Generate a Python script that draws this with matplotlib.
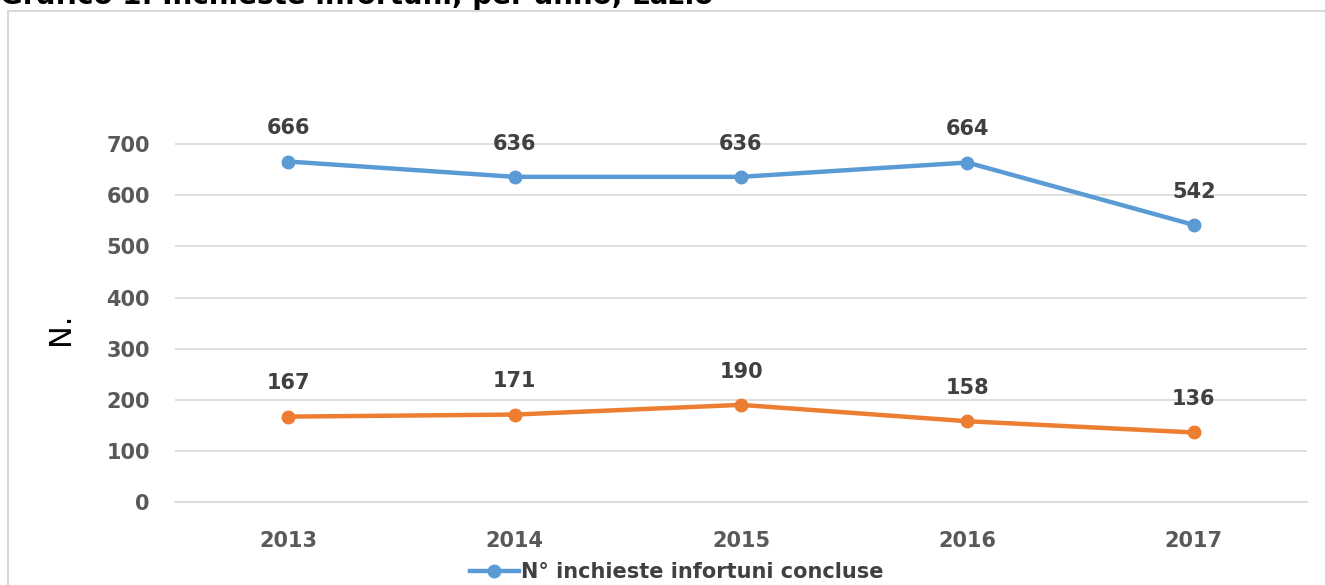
import matplotlib.pyplot as plt
from matplotlib.patches import Rectangle

# data
years = ['2013', '2014', '2015', '2016', '2017']
inchieste_concluse = [666, 636, 636, 664, 542]
serie_arancione = [167, 171, 190, 158, 136]
y_ticks = [0, 100, 200, 300, 400, 500, 600, 700]

blue = '#5B9BD5'
orange = '#ED7D31'
label_col = '#404040'
tick_col = '#595959'

plt.rcParams['font.family'] = ['DejaVu Sans']

fig = plt.figure(figsize=(13.25, 5.85), dpi=100)
ax = fig.add_axes([175 / 1325, 1 - 502 / 585, 1132 / 1325, 409 / 585])

# outer chart frame (partly cut off, as in the source)
fig.patches.append(Rectangle((8 / 1325, -0.1), 1.2, 1 - 11 / 585 + 0.1,
                             transform=fig.transFigure, fill=False,
                             edgecolor='#D9D9D9', linewidth=1.5, zorder=0))

# title, clipped by the top edge like in the source image
fig.text(0.0, 1 - 4 / 585, 'Grafico 1: Inchieste infortuni, per anno, Lazio',
         fontsize=20, fontweight='bold', color='black', va='baseline', ha='left')

x = range(len(years))
ax.plot(x, inchieste_concluse, color=blue, linewidth=3.2, marker='o',
        markersize=9, label='N° inchieste infortuni concluse', zorder=3)
ax.plot(x, serie_arancione, color=orange, linewidth=3.2, marker='o',
        markersize=9, zorder=3)

for xi, v in zip(x, inchieste_concluse):
    ax.annotate(str(v), (xi, v), xytext=(0, 24), textcoords='offset points',
                ha='center', va='center', fontsize=15, fontweight='bold',
                color=label_col)
for xi, v in zip(x, serie_arancione):
    ax.annotate(str(v), (xi, v), xytext=(0, 24), textcoords='offset points',
                ha='center', va='center', fontsize=15, fontweight='bold',
                color=label_col)

ax.set_xlim(-0.5, 4.5)
ax.set_ylim(0, 800)
ax.set_yticks(y_ticks)
ax.set_xticks(list(x))
ax.set_xticklabels(years)
ax.grid(axis='y', color='#D9D9D9', linewidth=1.2)
ax.set_axisbelow(True)
for s in ['top', 'right', 'left']:
    ax.spines[s].set_visible(False)
ax.spines['bottom'].set_color('#D9D9D9')
ax.spines['bottom'].set_linewidth(1.2)
ax.tick_params(axis='both', length=0, labelsize=15, labelcolor=tick_col)
ax.tick_params(axis='y', pad=18)
ax.tick_params(axis='x', pad=21)
for lab in ax.get_xticklabels() + ax.get_yticklabels():
    lab.set_fontweight('bold')

ax.set_ylabel('N.', fontsize=22, color='black')
ax.yaxis.set_label_coords(-0.088, 0.423)

leg = ax.legend(loc='center', bbox_to_anchor=(0.443, -0.171), frameon=False,
                fontsize=15, handlelength=2.35, handletextpad=0.1,
                borderaxespad=0, borderpad=0)
for t in leg.get_texts():
    t.set_color(label_col)
    t.set_fontweight('bold')

fig.savefig('out.png', dpi=100)
